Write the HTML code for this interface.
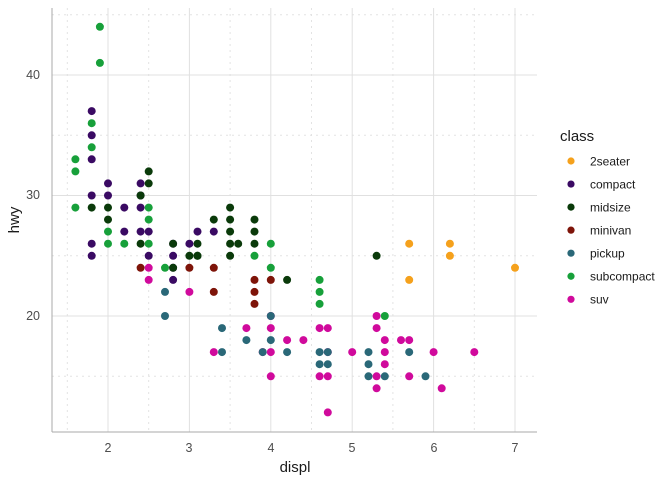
<!DOCTYPE html>
<html><head><meta charset="utf-8"><style>
body{margin:0;background:#fff}
svg{display:block;font-family:"Liberation Sans",sans-serif}
</style></head><body>
<svg id="s" width="672" height="480" xmlns="http://www.w3.org/2000/svg">
<rect width="672" height="480" fill="#fff"/>
<g id="grid"></g>
<line x1="52" y1="8" x2="52" y2="432" stroke="#aaa" stroke-width="1"/>
<line x1="52" y1="432" x2="537" y2="432" stroke="#aaa" stroke-width="1"/>
<g id="pts"></g>
<g font-size="12.5" fill="#4d4d4d" text-anchor="middle">
<text x="108" y="452">2</text><text x="189" y="452">3</text><text x="271" y="452">4</text>
<text x="352" y="452">5</text><text x="434" y="452">6</text><text x="515" y="452">7</text>
</g>
<g font-size="12.5" fill="#4d4d4d" text-anchor="end">
<text x="40" y="320">20</text><text x="40" y="199">30</text><text x="40" y="79">40</text>
</g>
<text x="295" y="472" font-size="15" fill="#1a1a1a" text-anchor="middle">displ</text>
<text transform="translate(19,220) rotate(-90)" font-size="15" fill="#1a1a1a" text-anchor="middle">hwy</text>
<text x="560" y="141" font-size="15" fill="#1a1a1a">class</text>
<g id="leg" font-size="12" fill="#1a1a1a"></g>
</svg>
<script>
var C={a:"#F5A11C",c:"#3A0A63",m:"#0A3A0A",v:"#7E1409",p:"#2A6878",s:"#17A03A",u:"#D00A9C"};
function X(d){return 108+(d-2)*81.4}
function Y(h){return 316-(h-20)*12.05}
var g=document.getElementById('grid'),ns="http://www.w3.org/2000/svg",s='';
[1.5,2.5,3.5,4.5,5.5,6.5].forEach(function(d){s+='<line x1="'+X(d)+'" x2="'+X(d)+'" y1="8" y2="432" stroke="#e3e3e3" stroke-dasharray="2,4"/>'});
[15,25,35,45].forEach(function(h){s+='<line y1="'+Y(h)+'" y2="'+Y(h)+'" x1="52" x2="537" stroke="#e3e3e3" stroke-dasharray="2,4"/>'});
[2,3,4,5,6,7].forEach(function(d){s+='<line x1="'+X(d)+'" x2="'+X(d)+'" y1="8" y2="432" stroke="#e0e0e0"/>'});
[20,30,40].forEach(function(h){s+='<line y1="'+Y(h)+'" y2="'+Y(h)+'" x1="52" x2="537" stroke="#e0e0e0"/>'});
g.innerHTML=s;
var P={
c:[[1.8,37],[1.8,35],[1.8,33],[2.0,31],[2.4,31],[1.8,30],[2.0,30],[2.4,30],[2.2,29],[2.4,29],[2.2,27],[2.4,27],[2.5,27],[3.1,27],[3.3,27],[1.8,26],[2.8,26],[3.0,26],[1.8,25],[2.5,25],[2.8,25],[2.8,24],[2.8,23],[2.0,29],[1.9,44]],
m:[[2.5,32],[2.5,31],[2.4,30],[1.8,29],[2.0,29],[2.0,28],[3.5,29],[3.3,28],[3.5,28],[3.8,28],[3.5,27],[3.8,27],[2.4,26],[2.8,26],[3.1,26],[3.5,26],[3.6,26],[3.8,26],[3.0,25],[3.1,25],[3.5,25],[2.8,24],[3.1,25],[4.2,23],[5.3,25]],
a:[[5.7,26],[6.2,26],[6.2,25],[5.7,23],[7.0,24]],
v:[[2.4,24],[3.0,24],[3.3,24],[3.8,23],[4.0,23],[3.3,22],[3.8,22],[3.8,21]],
p:[[2.7,22],[2.7,20],[4.0,20],[3.4,19],[3.7,18],[4.0,18],[3.4,17],[4.2,17],[4.6,17],[4.6,16],[4.7,16],[4.7,17],[5.2,17],[5.2,16],[5.2,15],[5.4,15],[5.7,17],[5.9,15],[3.9,17],[4.7,12]],
u:[[2.5,24],[2.5,23],[3.0,22],[3.7,19],[4.0,19],[4.6,19],[4.7,19],[5.3,20],[5.3,19],[4.2,18],[4.4,18],[5.4,18],[5.6,18],[5.7,18],[3.3,17],[3.9,17],[4.0,17],[4.7,17],[5.0,17],[5.4,17],[6.0,17],[5.4,16],[4.0,15],[4.6,15],[4.7,15],[5.3,15],[5.7,15],[5.3,14],[6.1,14],[4.7,12],[6.5,17],[4.0,20]],
s:[[1.9,44],[1.9,41],[1.8,36],[1.8,34],[1.6,33],[1.6,32],[1.6,29],[2.5,29],[2.5,28],[2.0,27],[2.0,26],[2.2,26],[2.5,26],[2.7,24],[3.8,25],[4.0,26],[4.0,24],[4.6,23],[4.6,22],[4.6,21],[5.4,20],[2.0,28],[2.0,29]]
};
var order=['c','m','a','v','u','p','s'];s='';
order.forEach(function(k){P[k].forEach(function(q){
 if(k=='p'&&q[0]==4.7&&q[1]==12)return;
 if(k=='c'&&(q[1]==44||(q[0]==2.0&&q[1]==29)))return;
 if(k=='s'&&q[0]==2.0&&(q[1]==28||q[1]==29))return;
 s+='<circle cx="'+X(q[0]).toFixed(1)+'" cy="'+Y(q[1]).toFixed(1)+'" r="4" fill="'+C[k]+'"/>'})});
document.getElementById('pts').innerHTML=s;
var L=[['a','2seater'],['c','compact'],['m','midsize'],['v','minivan'],['p','pickup'],['s','subcompact'],['u','suv']];s='';
L.forEach(function(l,i){var y=161+i*23.05;s+='<circle cx="571" cy="'+y+'" r="3.6" fill="'+C[l[0]]+'"/><text x="590" y="'+(y+4.3)+'">'+l[1]+'</text>'});
document.getElementById('leg').innerHTML=s;
</script>
</body></html>
